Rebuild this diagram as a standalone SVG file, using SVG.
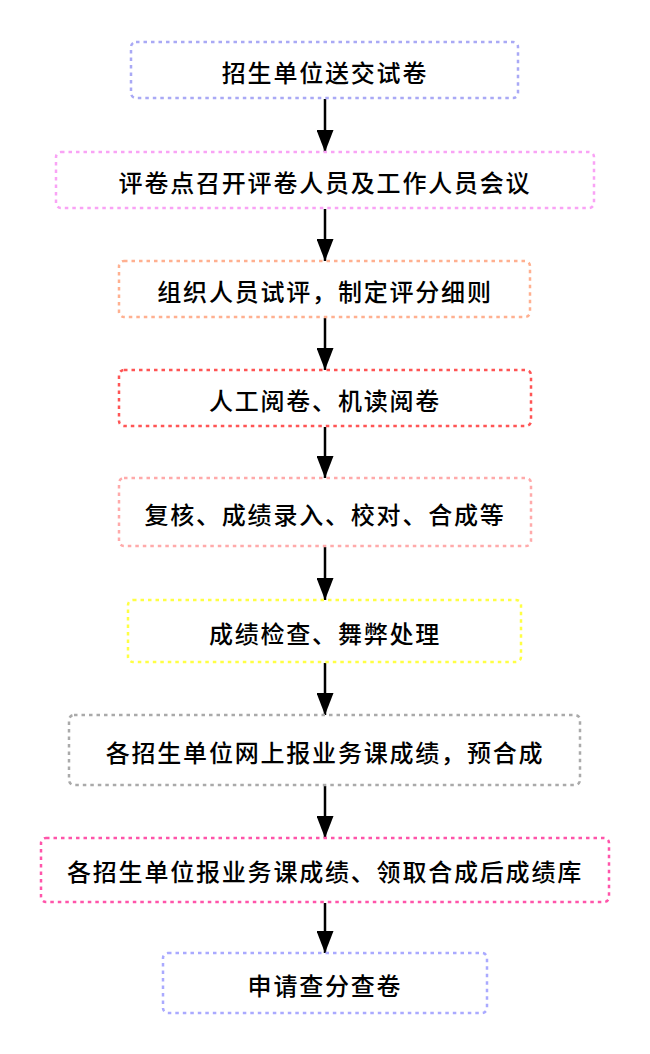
<svg xmlns="http://www.w3.org/2000/svg" width="650" height="1054" viewBox="0 0 650 1054">
<style>
.box{fill:#fff;stroke-width:2.5;stroke-dasharray:3.5 4}
.t{font-family:"Noto Sans CJK SC","Noto Sans",sans-serif;font-size:24px;font-weight:500;letter-spacing:1.8px;fill:#000;text-anchor:middle;dominant-baseline:central}
.c{stroke:#000;stroke-width:2.5;fill:none}
</style>
<defs>
<marker id="ah" viewBox="0 0 22 17" refX="22" refY="8.5" markerWidth="22" markerHeight="17" markerUnits="userSpaceOnUse" orient="auto">
<path d="M0,0 L22,8.5 L0,17 Z" fill="#000"/>
</marker>
</defs>
<rect width="650" height="1054" fill="#fff"/>
<g id="connectors">
<line class="c" x1="325" y1="99" x2="325" y2="152" marker-end="url(#ah)"/>
<line class="c" x1="325" y1="209" x2="325" y2="261" marker-end="url(#ah)"/>
<line class="c" x1="325" y1="318" x2="325" y2="370" marker-end="url(#ah)"/>
<line class="c" x1="325" y1="427" x2="325" y2="478" marker-end="url(#ah)"/>
<line class="c" x1="325" y1="547" x2="325" y2="600" marker-end="url(#ah)"/>
<line class="c" x1="325" y1="663" x2="325" y2="715" marker-end="url(#ah)"/>
<line class="c" x1="325" y1="786" x2="325" y2="838" marker-end="url(#ah)"/>
<line class="c" x1="325" y1="903" x2="325" y2="953" marker-end="url(#ah)"/>
</g>
<g id="n1"><rect class="box" x="131" y="42" width="387" height="56" rx="5" stroke="#a9a9f5"/><text class="t" x="325" y="71">招生单位送交试卷</text></g>
<g id="n2"><rect class="box" x="56" y="152" width="538" height="56" rx="5" stroke="#f9a3f5"/><text class="t" x="325" y="181">评卷点召开评卷人员及工作人员会议</text></g>
<g id="n3"><rect class="box" x="119" y="261" width="411" height="56" rx="5" stroke="#ffb090"/><text class="t" x="325" y="290">组织人员试评，制定评分细则</text></g>
<g id="n4"><rect class="box" x="119" y="370" width="412" height="56" rx="5" stroke="#ff5555"/><text class="t" x="325" y="399">人工阅卷、机读阅卷</text></g>
<g id="n5"><rect class="box" x="119" y="478" width="412" height="68" rx="5" stroke="#ffaaaa"/><text class="t" x="325" y="513">复核、成绩录入、校对、合成等</text></g>
<g id="n6"><rect class="box" x="128" y="600" width="393" height="62" rx="5" stroke="#ffff44"/><text class="t" x="325" y="632">成绩检查、舞弊处理</text></g>
<g id="n7"><rect class="box" x="69" y="715" width="511" height="70" rx="5" stroke="#aaaaaa"/><text class="t" x="325" y="751">各招生单位网上报业务课成绩，预合成</text></g>
<g id="n8"><rect class="box" x="41" y="838" width="568" height="64" rx="5" stroke="#ff55aa"/><text class="t" x="325" y="870">各招生单位报业务课成绩、领取合成后成绩库</text></g>
<g id="n9"><rect class="box" x="163" y="953" width="324" height="60" rx="5" stroke="#aaaaff"/><text class="t" x="325" y="984">申请查分查卷</text></g>
</svg>
